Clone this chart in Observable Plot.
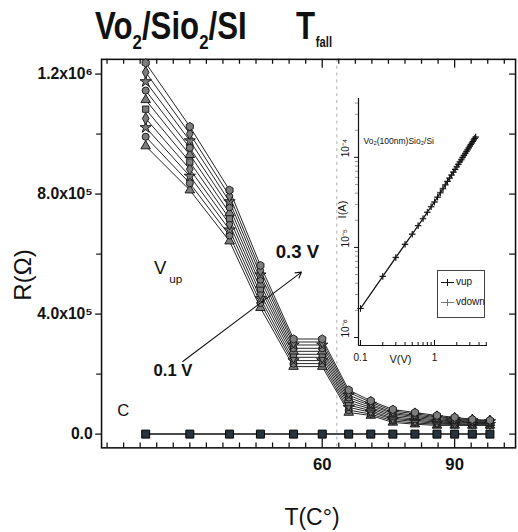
<!DOCTYPE html>
<html><head><meta charset="utf-8">
<script src="https://cdn.jsdelivr.net/npm/d3@7"></script>
<script src="https://cdn.jsdelivr.net/npm/@observablehq/plot@0.6"></script>
<style>
html,body{margin:0;padding:0;background:#fff;overflow:hidden;}
#wrap{position:relative;width:518px;height:532px;overflow:hidden;font-family:"Liberation Sans",Arial,sans-serif;color:#111;}
#wrap > svg{position:absolute;left:0;top:0;}
.abs{position:absolute;white-space:nowrap;line-height:1;}
.narrow{font-family:"Liberation Sans Narrow","Arial Narrow","Liberation Sans",sans-serif;}
</style></head><body><div id="wrap"></div>
<script>
// ---------- main chart data ----------
const temps = [20, 30, 39, 46, 53.5, 60, 66, 71, 76, 81, 86, 90, 94, 98];
const seriesNames = ["0.10 V","0.12 V","0.14 V","0.16 V","0.18 V","0.20 V","0.22 V","0.24 V","0.27 V","0.30 V"];
// resistance in kΩ, lowest curve first
const r010 = [960, 813, 643, 421, 225, 225, 72, 62, 39, 33, 29, 29, 29, 29];
const r012 = [991, 836, 662, 437, 235, 235, 80, 67, 44, 37, 33, 32, 31, 31];
const r014 = [1022, 860, 681, 452, 245, 245, 89, 73, 49, 42, 36, 35, 33, 33];
const r016 = [1052, 883, 700, 468, 256, 256, 97, 78, 53, 46, 40, 38, 36, 35];
const r018 = [1083, 907, 718, 484, 266, 266, 105, 84, 58, 50, 44, 41, 38, 37];
const r020 = [1114, 931, 737, 499, 276, 276, 114, 89, 63, 55, 47, 44, 40, 38];
const r022 = [1145, 954, 756, 515, 286, 286, 122, 95, 68, 59, 51, 47, 42, 40];
const r024 = [1175, 978, 775, 531, 297, 297, 130, 100, 72, 63, 55, 50, 45, 42];
const r027 = [1206, 1001, 794, 546, 307, 307, 139, 106, 77, 68, 58, 53, 47, 44];
const r030 = [1237, 1025, 813, 562, 317, 317, 147, 111, 82, 72, 62, 56, 49, 46];
const seriesValues = [r010, r012, r014, r016, r018, r020, r022, r024, r027, r030];
const seriesSymbols = ["triangle","circle","star","diamond","square","triangle","circle","star","diamond","hexagon"];
// reference series "C"
const cTemps = [20, 30, 39, 46, 53.5, 60, 66, 71, 76, 81, 86, 90, 94, 98];
const cValues = [0, 0, 0, 0, 0, 0, 0, 0, 0, 0, 0, 0, 0, 0];
// axes
const yMajorTicks = [0, 400000, 800000, 1200000];
const yTickLabels = ["0.0", "4.0x10\u2075", "8.0x10\u2075", "1.2x10\u2076"];
const yMinorTicks = [200000, 600000, 1000000];
const xMajorTicks = [60, 90];
const xTickLabels = ["60", "90"];
const dashedT = [63.3];
// annotations
const arrowFrom = [28.4, 242000];
const arrowTo = [55.3, 540000];

// ---------- inset data ----------
const insetV = [0.1,0.2,0.3,0.4,0.5,0.6,0.7,0.8,0.9,1.0,1.1,1.2,1.3,1.4,1.5,1.6,1.7,1.8,1.9,2.0,2.1,2.2,2.3,2.4,2.5,2.6,2.7,2.8,2.9,3.0,3.1,3.2,3.3,3.4,3.5,3.6];
// current in µA
const insetUp = [2.1,4.76,7.7,10.8,14.0,17.4,20.8,24.5,28.2,31.8,36.0,40.3,44.7,49.3,53.9,58.6,63.4,68.3,73.2,78.3,83.4,88.6,93.8,99.3,104.6,110,115.7,121,126.9,133,138.3,144,150,156,162,168];
const insetDown = [2.1,4.8,7.8,10.9,14.1,17.5,21.0,24.7,28.5,32.2,36.5,40.9,45.4,50.0,54.7,59.5,64.4,69.3,74.3,79.4,84.6,89.8,95.1,100.5,105.9,111.4,117,122.5,128.2,134,139.6,145.3,151,157,162.8,168.5];
const insetYTicks = [1e-6, 1e-5, 1e-4];
const insetYLabels = ["10\u207B\u2076", "10\u207B\u2075", "10\u207B\u2074"];
const insetXTicks = [0.1, 1];
const insetXLabels = ["0.1", "1"];
const insetXMinor = [0.2,0.3,0.4,0.5,0.6,0.7,0.8,0.9,2,3,4,5];
const insetYMinor = [2e-6,3e-6,4e-6,5e-6,6e-6,7e-6,8e-6,9e-6,2e-5,3e-5,4e-5,5e-5,6e-5,7e-5,8e-5,9e-5,2e-4,3e-4,4e-4];

// ---------- build tables ----------
const rows = [];
seriesValues.forEach((vals, si) => vals.forEach((v, i) => rows.push({t: temps[i], r: v * 1000, series: seriesNames[si]})));
const cRows = cTemps.map((t, i) => ({t, r: cValues[i]}));

const W = 528, H = 532, mL = 103, mR = 3, mT = 60, mB = 76;
const plotW = W - mL - mR, plotH = H - mT - mB;
const xMinorTicks = d3.range(11.25, 104, 3.75).filter(t => !xMajorTicks.includes(t));
const yAllTicks = [0, 200000, 400000, 600000, 800000, 1000000, 1200000];
const narrow = "'Liberation Sans Narrow','Arial Narrow','Liberation Sans',sans-serif";

const main = Plot.plot({
  width: W, height: H, marginLeft: mL, marginRight: mR, marginTop: mT, marginBottom: mB,
  x: {domain: [10, 103.8]},
  y: {domain: [-45800, 1249000]},
  symbol: {domain: seriesNames, range: seriesSymbols},
  style: {fontFamily: "'Liberation Sans',Arial,sans-serif", fontSize: "16px", color: "#111", background: "none"},
  marks: [
    Plot.ruleX(dashedT, {x: d => d, stroke: "#aaa", strokeDasharray: "3,4", strokeWidth: 1}),
    Plot.frame({stroke: "#111", strokeWidth: 1.6}),
    Plot.axisY({ticks: yMajorTicks, tickFormat: d => yTickLabels[yMajorTicks.indexOf(d)], tickSize: 6, tickPadding: 3, fontWeight: "bold", fontSize: 16, label: null, strokeWidth: 1.3}),
    Plot.axisY({ticks: yMinorTicks, tickFormat: () => "", tickSize: 5, label: null, strokeWidth: 1.2}),
    Plot.tickY(yAllTicks, {y: d => d, insetLeft: plotW - 6, stroke: "#111", strokeWidth: 1.3}),
    Plot.tickX(xMinorTicks, {x: d => d, insetTop: plotH - 5, stroke: "#111", strokeWidth: 1.3}),
    Plot.tickX(xMajorTicks, {x: d => d, insetTop: plotH - 9, stroke: "#111", strokeWidth: 1.3}),
    Plot.tickX(xMinorTicks, {x: d => d, insetBottom: plotH - 5, stroke: "#111", strokeWidth: 1.3}),
    Plot.tickX(xMajorTicks, {x: d => d, insetBottom: plotH - 9, stroke: "#111", strokeWidth: 1.3}),
    Plot.axisX({ticks: xMajorTicks, tickFormat: d => xTickLabels[xMajorTicks.indexOf(d)], tickSize: 0, tickPadding: 11, fontWeight: "bold", fontSize: 17, label: null}),
    Plot.line(rows, {x: "t", y: "r", z: "series", stroke: "#222", strokeWidth: 1}),
    Plot.dot(rows, {x: "t", y: "r", symbol: "series", fill: "#7d7d7d", stroke: "#1a1a1a", r: 3.6, strokeWidth: 1}),
    Plot.line(cRows, {x: "t", y: "r", stroke: "#111", strokeWidth: 1.5}),
    Plot.dot(cRows, {x: "t", y: "r", symbol: "square", r: 4.6, fill: "#26323c", stroke: "#000", strokeWidth: 1}),
    Plot.arrow([0], {x1: () => arrowFrom[0], y1: () => arrowFrom[1], x2: () => arrowTo[0], y2: () => arrowTo[1], stroke: "#111", strokeWidth: 1.1, headLength: 9}),
    Plot.text(["V"], {x: () => 23.3, y: () => 553000, text: d => d, fontSize: 19, fill: "#111"}),
    Plot.text(["up"], {x: () => 26.8, y: () => 517000, text: d => d, fontSize: 12, fill: "#111"}),
    Plot.text(["0.3 V"], {x: () => 54.4, y: () => 608000, text: d => d, fontSize: 19, fontWeight: "bold", fill: "#111"}),
    Plot.text(["0.1 V"], {x: () => 26.2, y: () => 213000, text: d => d, fontSize: 17, fontWeight: "bold", fill: "#111"}),
    Plot.text(["C"], {x: () => 14.9, y: () => 78500, text: d => d, fontSize: 17, fill: "#111"})
  ]
});

// ---------- inset ----------
const iRows = [];
insetV.forEach((v, i) => { iRows.push({v, i: insetDown[i] * 1e-6, dir: "vdown"}); });
insetV.forEach((v, i) => { iRows.push({v, i: insetUp[i] * 1e-6, dir: "vup"}); });
const iW = 190, iH = 300, iL = 40, iR = 21, iT = 18, iB = 35;
const iPlotH = iH - iT - iB;
const inset = Plot.plot({
  width: iW, height: iH, marginLeft: iL, marginRight: iR, marginTop: iT, marginBottom: iB,
  x: {type: "log", domain: [0.094, 5.2]},
  y: {type: "log", domain: [8.15e-7, 4.5e-4]},
  style: {fontFamily: "'Liberation Sans',Arial,sans-serif", fontSize: "10px", color: "#111", background: "none"},
  marks: [
    Plot.ruleX([0.094], {stroke: "#111", strokeWidth: 1.2}),
    Plot.ruleY([8.15e-7], {stroke: "#111", strokeWidth: 1.2}),
    Plot.axisY({ticks: insetYMinor, tickFormat: () => "", tickSize: 3, label: null, stroke: "#999"}),
    Plot.axisY({ticks: insetYTicks, tickFormat: () => "", tickSize: 4, label: null}),
    Plot.text(insetYTicks, {y: d => d, text: (d, i) => insetYLabels[i], frameAnchor: "left", dx: -13, rotate: -90, fontSize: 10}),
    Plot.tickX(insetXMinor, {x: d => d, insetTop: iPlotH - 3, stroke: "#111"}),
    Plot.tickX(insetXTicks, {x: d => d, insetTop: iPlotH - 5, stroke: "#111"}),
    Plot.axisX({ticks: insetXTicks, tickFormat: d => insetXLabels[insetXTicks.indexOf(d)], tickSize: 0, tickPadding: 8, fontSize: 10, label: null}),
    Plot.text(["V(V)"], {x: () => 0.347, frameAnchor: "bottom", dy: 17, text: d => d, fontSize: 11}),
    Plot.text(["I(A)"], {y: () => 2.1e-5, frameAnchor: "left", dx: -16, rotate: -90, text: d => d, fontSize: 11}),
    Plot.text(["Vo\u2082(100nm)Sio\u2082/Si"], {x: () => 0.11, y: () => 1.5e-4, textAnchor: "start", text: d => d, fontSize: 8.5}),
    Plot.line(iRows, {x: "v", y: "i", z: "dir", stroke: d => d.dir === "vup" ? "#111" : "#777", strokeWidth: 1.1}),
    Plot.dot(iRows, {x: "v", y: "i", symbol: "plus", r: 2.2, stroke: d => d.dir === "vup" ? "#111" : "#777", strokeWidth: 1})
  ]
});
inset.style.left = "318px";
inset.style.top = "80px";

const wrap = document.getElementById("wrap");
wrap.appendChild(main);
wrap.appendChild(inset);

// title, axis labels, legend (HTML)
wrap.insertAdjacentHTML("beforeend", `
<div class="abs" style="left:95px;top:6px;font-size:39px;font-weight:bold;transform:scaleX(0.8);transform-origin:0 0;">Vo<span style="font-size:21px;position:relative;top:10px;">2</span>/Sio<span style="font-size:21px;position:relative;top:10px;">2</span>/SI</div>
<div class="abs" style="left:296px;top:6px;font-size:39px;font-weight:bold;transform:scaleX(0.8);transform-origin:0 0;">T<span style="font-size:14px;position:relative;top:8px;margin-left:1px;">fall</span></div>
<div class="abs" style="left:23px;top:275px;font-size:24px;transform:translate(-50%,-50%) rotate(-90deg);">R(\u03A9)</div>
<div class="abs" style="left:312px;top:517px;font-size:23px;transform:translate(-50%,-50%);">T(C\u00B0)</div>
<div class="abs" style="left:437px;top:270px;width:46px;height:46px;border:1px solid #444;font-size:10px;background:#fff;">
  <div style="position:absolute;left:3px;top:11px;width:13px;height:1px;background:#111;"></div>
  <div style="position:absolute;left:9px;top:8px;width:1px;height:7px;background:#111;"></div>
  <div style="position:absolute;left:18px;top:6px;">vup</div>
  <div style="position:absolute;left:3px;top:31px;width:13px;height:1px;background:#777;"></div>
  <div style="position:absolute;left:9px;top:28px;width:1px;height:7px;background:#777;"></div>
  <div style="position:absolute;left:18px;top:26px;">vdown</div>
</div>
`);
</script></body></html>
